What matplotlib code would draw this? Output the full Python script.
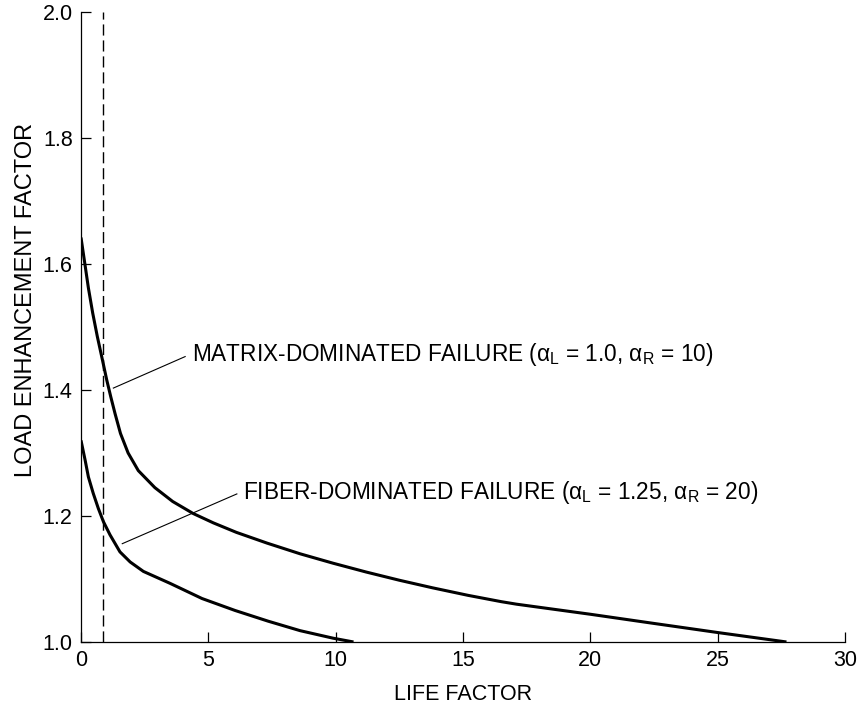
import matplotlib
matplotlib.use("Agg")
from matplotlib import pyplot as plt

plt.rcParams['font.family'] = ['Liberation Sans', 'DejaVu Sans']
plt.rcParams['mathtext.fontset'] = 'custom'
plt.rcParams['mathtext.rm'] = 'Liberation Sans'
plt.rcParams['mathtext.it'] = 'Liberation Sans:italic'

# matrix-dominated failure curve (life factor, load enhancement factor)
matrix_x = [0.0, 0.16, 0.29, 0.46, 0.64, 0.84, 1.01, 1.17, 1.34, 1.55, 1.85, 2.25, 2.9, 3.6,
            4.4, 5.2, 6.1, 7.3, 8.6, 9.9, 11.2, 12.5, 13.8, 15.2, 16.5, 17.1, 20.0, 22.4, 25.0, 27.7]
matrix_y = [1.642, 1.598, 1.562, 1.522, 1.485, 1.448, 1.416, 1.389, 1.362, 1.331, 1.300, 1.272, 1.245, 1.223,
            1.204, 1.189, 1.174, 1.157, 1.140, 1.125, 1.111, 1.098, 1.086, 1.074, 1.064, 1.060, 1.044, 1.030, 1.015, 1.0]

# fiber-dominated failure curve
fiber_x = [0.0, 0.16, 0.29, 0.48, 0.68, 0.88, 1.14, 1.53, 1.93, 2.45, 3.5, 4.75, 6.05, 7.35, 8.6, 9.9, 10.7]
fiber_y = [1.320, 1.289, 1.262, 1.236, 1.212, 1.191, 1.170, 1.143, 1.127, 1.112, 1.093, 1.069, 1.050, 1.033, 1.018, 1.006, 1.0]

dashed_x = 0.87

x_ticks = [0, 5, 10, 15, 20, 25, 30]
y_ticks = [1.0, 1.2, 1.4, 1.6, 1.8, 2.0]

matrix_label = r'MATRIX-DOMINATED FAILURE (α$_\mathrm{L}$ = 1.0, α$_\mathrm{R}$ = 10)'
fiber_label = r'FIBER-DOMINATED FAILURE (α$_\mathrm{L}$ = 1.25, α$_\mathrm{R}$ = 20)'

fig = plt.figure(figsize=(8.64, 7.04), dpi=100)
ax = fig.add_axes([0.09375, 0.0881, 0.8843, 0.8949])

ax.plot(matrix_x, matrix_y, color='black', lw=2.2, solid_capstyle='butt', solid_joinstyle='round')
ax.plot(fiber_x, fiber_y, color='black', lw=2.2, solid_capstyle='butt', solid_joinstyle='round')
ax.plot([dashed_x, dashed_x], [1.0, 2.0], color='black', lw=1.0, dashes=(8, 3.5))

# leader lines + labels
ax.plot([1.27, 4.09], [1.403, 1.453], color='black', lw=0.8)
ax.text(4.37, 1.456, matrix_label, fontsize=16.3, va='center', ha='left')
ax.plot([1.62, 6.12], [1.156, 1.235], color='black', lw=0.8)
ax.text(6.38, 1.238, fiber_label, fontsize=16.3, va='center', ha='left')

ax.set_xlim(0, 30)
ax.set_ylim(1.0, 2.0)
ax.set_xticks(x_ticks)
ax.set_yticks(y_ticks)
ax.set_yticklabels(['%.1f' % v for v in y_ticks])
ax.spines['top'].set_visible(False)
ax.spines['right'].set_visible(False)
ax.spines['left'].set_linewidth(0.9)
ax.spines['bottom'].set_linewidth(0.9)
ax.tick_params(direction='in', length=7, width=0.9, labelsize=15.5, pad=6)

ax.set_xlabel('LIFE FACTOR', fontsize=15.5, labelpad=9)
ax.set_ylabel('LOAD ENHANCEMENT FACTOR', fontsize=17)
ax.yaxis.set_label_coords(-0.057, 0.543)

fig.savefig('out.png', dpi=100)
